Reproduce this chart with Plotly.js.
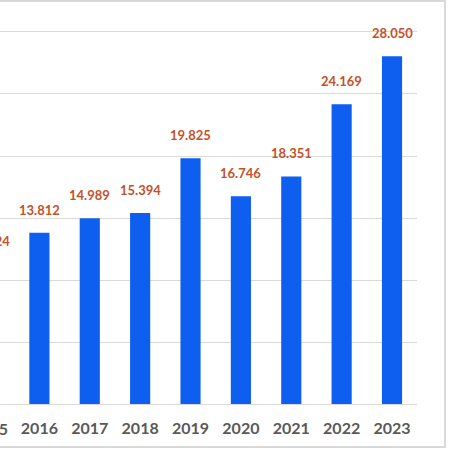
<!DOCTYPE html>
<html>
<head>
<meta charset="utf-8">
<script src="https://cdn.plot.ly/plotly-3.0.1.min.js"></script>
<style>
  body { margin: 0; background: #fff; }
  #wrap { position: relative; width: 450px; height: 450px; overflow: hidden; }
  #chart { width: 450px; height: 450px; }
  #frame {
    position: absolute; left: -5px; top: 0; width: 451px; height: 448px;
    border-top: 2px solid #d9d9d9; border-right: 2px solid #d9d9d9; border-bottom: 2px solid #d9d9d9;
    box-sizing: border-box; pointer-events: none;
  }
</style>
</head>
<body>
<div id="wrap">
  <div id="chart"></div>
  <div id="frame"></div>
</div>
<script>
var years = ['2015', '2016', '2017', '2018', '2019', '2020', '2021', '2022', '2023'];
var values = [11.324, 13.812, 14.989, 15.394, 19.825, 16.746, 18.351, 24.169, 28.050];
var gridVals = [0, 5, 10, 15, 20, 25, 30];

var xRange = [0.218, 8.496];
var labelFont = {family: 'Lato, "Open Sans", sans-serif', size: 13, color: '#c4512a', weight: 'bold'};
var tickFont = {family: 'Lato, "Open Sans", sans-serif', size: 16, color: '#595959', weight: 'bold'};

function paperX(i) {
  return (i - xRange[0]) / (xRange[1] - xRange[0]);
}

var bars = {
  x: years,
  y: values,
  type: 'bar',
  marker: {color: '#0e5ff0'},
  hoverinfo: 'none'
};

var notes = values.map(function(v, i) {
  var inRange = i >= xRange[0];
  return {
    x: inRange ? i : paperX(i),
    xref: inRange ? 'x' : 'paper',
    xanchor: 'center',
    y: v,
    yref: 'y',
    text: '<b>' + v.toFixed(3) + '</b>',
    showarrow: false,
    yanchor: 'bottom',
    yshift: 13,
    font: labelFont
  };
});

// 2015 sits just off the left edge, only its tail shows
notes.push({
  x: paperX(0),
  xref: 'paper',
  xanchor: 'center',
  y: 0,
  yref: 'paper',
  text: '<b>' + years[0] + '</b>',
  showarrow: false,
  yanchor: 'top',
  yshift: -13,
  font: tickFont
});

var layout = {
  width: 450,
  height: 450,
  margin: {l: 0, r: 33, t: 0, b: 46},
  paper_bgcolor: '#ffffff',
  plot_bgcolor: '#ffffff',
  bargap: 0.6,
  showlegend: false,
  xaxis: {
    type: 'category',
    range: xRange,
    showgrid: false,
    showline: true,
    linecolor: '#d9d9d9',
    linewidth: 1,
    ticks: '',
    ticklabelstandoff: 10,
    tickfont: tickFont,
    fixedrange: true
  },
  yaxis: {
    range: [0, 32.58],
    tickvals: gridVals,
    showticklabels: false,
    showgrid: true,
    gridcolor: '#d9d9d9',
    gridwidth: 1,
    zeroline: false,
    showline: false,
    fixedrange: true
  },
  annotations: notes
};

Plotly.newPlot('chart', [bars], layout, {displayModeBar: false, staticPlot: true});
</script>
</body>
</html>
